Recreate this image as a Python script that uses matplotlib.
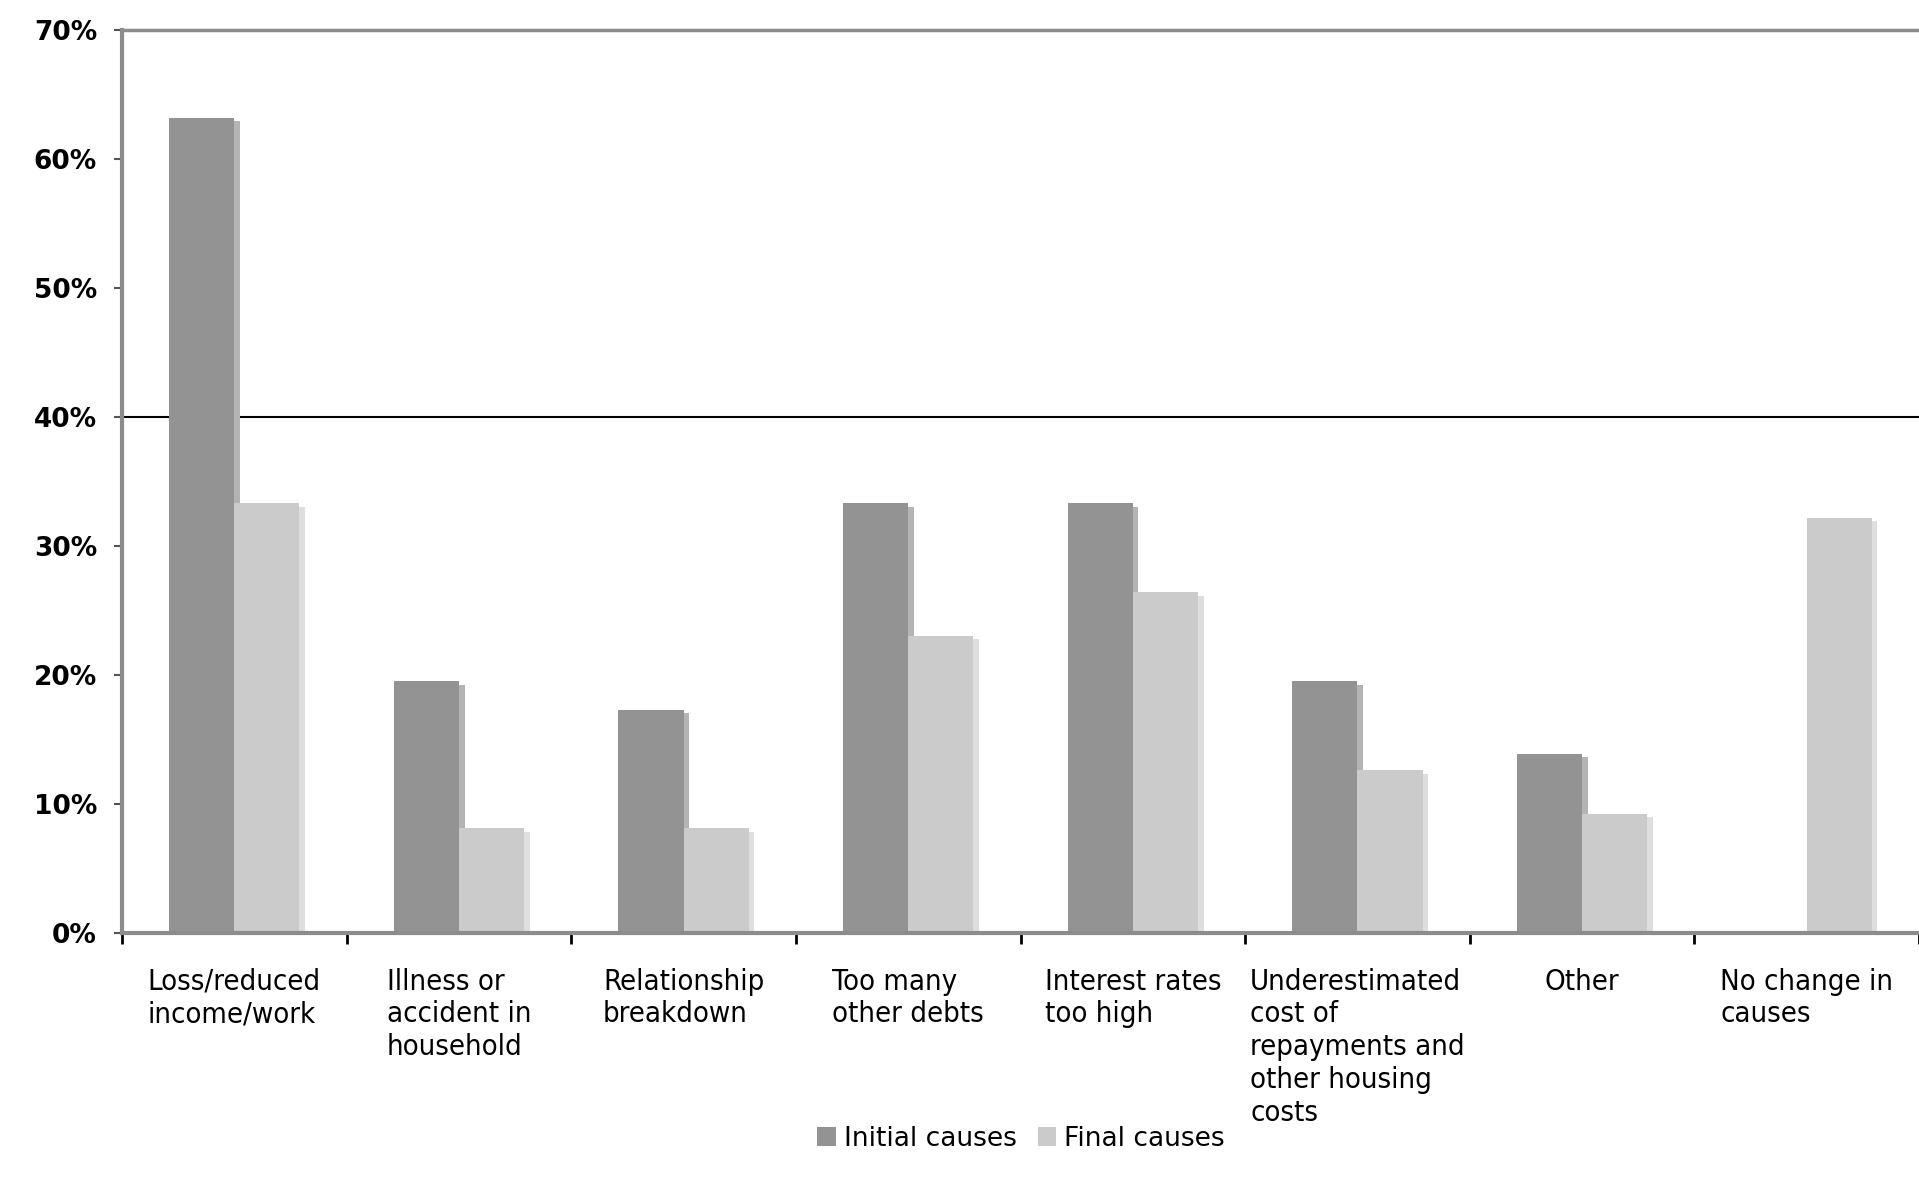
import numpy as np
import matplotlib.pyplot as plt
from matplotlib.ticker import FixedLocator

# values (percent)
causes = ['Loss/reduced\nincome/work', 'Illness or\naccident in\nhousehold',
          'Relationship\nbreakdown', 'Too many\nother debts', 'Interest rates\ntoo high',
          'Underestimated\ncost of\nrepayments and\nother housing\ncosts',
          'Other', 'No change in\ncauses']
initial = [63.2, 19.5, 17.3, 33.3, 33.3, 19.5, 13.9, 0.0]
final = [33.3, 8.1, 8.1, 23.0, 26.4, 12.6, 9.2, 32.2]
yticks = [0, 10, 20, 30, 40, 50, 60, 70]

fig = plt.figure(figsize=(19.19, 12.01), dpi=100)
ax = fig.add_axes([0.0636, 0.2232, 0.9364, 0.7518])

x = np.arange(len(causes)) + 0.5
w = 0.29
sh = 0.025  # soft shadow to the right of each bar, like the original export
ax.bar(x - w / 2 + sh, np.array(initial) - 0.25, w, color='#b4b4b4', zorder=1.5)
ax.bar(x + w / 2 + sh, np.array(final) - 0.25, w, color='#dedede', zorder=1.5)
ax.bar(x - w / 2, initial, w, color='#939393', label='Initial causes', zorder=2)
ax.bar(x + w / 2, final, w, color='#cbcbcb', label='Final causes', zorder=2)

ax.axhline(40, color='black', lw=1.5, zorder=1)

ax.set_xlim(0, len(causes))
ax.set_ylim(0, 70)

ax.set_yticks(yticks)
ax.set_yticklabels([f'{v}%' for v in yticks], fontsize=19, fontweight='bold')
ax.tick_params(axis='y', length=6, width=1.5, color='#555555', pad=12)

ax.set_xticks(x)
ax.set_xticklabels(causes, fontsize=21, ha='center', multialignment='left',
                   fontstretch='condensed', linespacing=1.22)
ax.tick_params(axis='x', which='major', length=0, pad=25)
ax.xaxis.set_minor_locator(FixedLocator(np.arange(len(causes) + 1)))
ax.tick_params(axis='x', which='minor', length=8, width=2, color='black')

for side in ['left', 'bottom', 'top']:
    ax.spines[side].set_color('#8c8c8c')
ax.spines['left'].set_linewidth(3)
ax.spines['bottom'].set_linewidth(3)
ax.spines['top'].set_linewidth(2.5)
ax.spines['right'].set_visible(False)

fig.legend(loc='center', bbox_to_anchor=(0.532, 0.052), ncol=2, frameon=False,
           fontsize=19, handlelength=0.7, handleheight=0.7, handletextpad=0.3,
           columnspacing=0.8)

fig.savefig('out.png', dpi=100)
